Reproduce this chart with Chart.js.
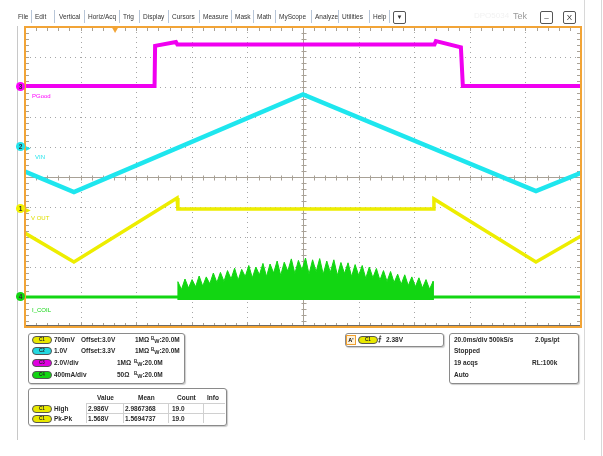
<!DOCTYPE html>
<html>
<head>
<meta charset="utf-8">
<script src="https://cdn.jsdelivr.net/npm/chart.js@4.4.0/dist/chart.umd.min.js"></script>
<style>
body{margin:0;background:#fff;font-family:"Liberation Sans",Arial,sans-serif;}
#wrap{position:relative;width:603px;height:456px;overflow:hidden;}
#scope{position:absolute;left:0;top:0;}
.t{position:absolute;white-space:nowrap;font-size:6.5px;line-height:7px;color:#2a2a2a;}
.m{font-size:6.5px;color:#333;}
.b{font-weight:bold;}
.sep{position:absolute;top:10px;width:1px;height:13px;background:#b8c6d8;}
.btn{position:absolute;top:11px;width:11px;height:11px;border:1px solid #555;border-radius:2px;font-size:8px;line-height:11px;text-align:center;color:#333;}
.box{position:absolute;border:1px solid #8a8a8a;border-radius:3px;background:#fff;box-shadow:1px 1px 1px #ccc;}
.badge{position:absolute;width:18px;height:6px;border:1px solid #555;border-radius:4px;font-size:4.5px;line-height:6px;text-align:center;color:#222;font-weight:bold;}
.mk{position:absolute;width:9px;height:9px;border-radius:50%;font-size:6.5px;line-height:9px;text-align:center;font-weight:bold;color:#333;}
.lbl{position:absolute;font-size:6px;white-space:nowrap;}
.vl{position:absolute;width:1px;background:#d0d0d0;}
.hl{position:absolute;height:1px;background:#d0d0d0;}
.bu{font-size:4.5px;position:relative;top:-2px;}
.bd{font-size:5.5px;position:relative;top:1px;}
</style>
</head>
<body>
<div id="wrap">
<canvas id="scope" width="603" height="456"></canvas>

<div class="vl" style="left:17px;top:26px;height:414px;background:#c8c8c8"></div>
<div class="vl" style="left:584px;top:0;height:440px;background:#d8d8d8"></div>
<div class="vl" style="left:601px;top:0;height:456px;background:#d8d8d8"></div>

<!-- menu bar -->
<span class="t m" style="left:18px;top:13px">File</span><div class="sep" style="left:31px"></div>
<span class="t m" style="left:35px;top:13px">Edit</span><div class="sep" style="left:54px"></div>
<span class="t m" style="left:59px;top:13px">Vertical</span><div class="sep" style="left:84px"></div>
<span class="t m" style="left:88px;top:13px">Horiz/Acq</span><div class="sep" style="left:119px"></div>
<span class="t m" style="left:123px;top:13px">Trig</span><div class="sep" style="left:139px"></div>
<span class="t m" style="left:143px;top:13px">Display</span><div class="sep" style="left:168px"></div>
<span class="t m" style="left:172px;top:13px">Cursors</span><div class="sep" style="left:199px"></div>
<span class="t m" style="left:203px;top:13px">Measure</span><div class="sep" style="left:231px"></div>
<span class="t m" style="left:235px;top:13px">Mask</span><div class="sep" style="left:253px"></div>
<span class="t m" style="left:257px;top:13px">Math</span><div class="sep" style="left:275px"></div>
<span class="t m" style="left:279px;top:13px">MyScope</span><div class="sep" style="left:311px"></div>
<span class="t m" style="left:315px;top:13px">Analyze</span><div class="sep" style="left:338px"></div>
<span class="t m" style="left:342px;top:13px">Utilities</span><div class="sep" style="left:369px"></div>
<span class="t m" style="left:373px;top:13px">Help</span><div class="sep" style="left:389px"></div>
<div class="btn" style="left:393px;font-size:6px">▼</div>
<span class="t" style="left:474px;top:12px;font-size:8px;color:#f2f2f2">DPO5034</span>
<span class="t" style="left:513px;top:11px;font-size:9px;line-height:10px;color:#9a9a9a">Tek</span>
<div class="btn" style="left:540px">–</div>
<div class="btn" style="left:563px">X</div>

<!-- channel markers -->
<div class="mk" style="left:16px;top:82px;background:#f0f">3</div>
<div class="mk" style="left:16px;top:142px;background:#22e4ec">2</div>
<span class="lbl" style="left:26px;top:144px;color:#22e4ec;font-size:6px">▶</span>
<div class="mk" style="left:16px;top:204px;background:#f2f200">1</div>
<span class="lbl" style="left:26px;top:206px;color:#e8e800;font-size:6px">▶</span>
<div class="mk" style="left:16px;top:292px;background:#12d612">4</div>
<span class="lbl" style="left:32px;top:93px;color:#f0f">PGood</span>
<span class="lbl" style="left:35px;top:154px;color:#22e4ec">VIN</span>
<span class="lbl" style="left:31px;top:215px;color:#e0e000">V OUT</span>
<span class="lbl" style="left:32px;top:307px;color:#12d612">I_COIL</span>

<!-- channel panel -->
<div class="box" style="left:28px;top:333px;width:155px;height:49px"></div>
<div class="badge" style="left:32px;top:336px;background:#e8e800">C1</div>
<span class="t b" style="left:54px;top:336px">700mV</span>
<span class="t b" style="left:81px;top:336px">Offset:3.0V</span>
<span class="t b" style="left:135px;top:336px">1MΩ</span>
<span class="t b" style="left:151px;top:336px"><span class="bu">B</span><span class="bd">W</span>:20.0M</span>
<div class="badge" style="left:32px;top:347px;background:#22d8e0">C2</div>
<span class="t b" style="left:54px;top:347px">1.0V</span>
<span class="t b" style="left:81px;top:347px">Offset:3.3V</span>
<span class="t b" style="left:135px;top:347px">1MΩ</span>
<span class="t b" style="left:151px;top:347px"><span class="bu">B</span><span class="bd">W</span>:20.0M</span>
<div class="badge" style="left:32px;top:359px;background:#e000e0">C3</div>
<span class="t b" style="left:54px;top:359px">2.0V/div</span>
<span class="t b" style="left:117px;top:359px">1MΩ</span>
<span class="t b" style="left:134px;top:359px"><span class="bu">B</span><span class="bd">W</span>:20.0M</span>
<div class="badge" style="left:32px;top:371px;background:#12d612">C4</div>
<span class="t b" style="left:54px;top:371px">400mA/div</span>
<span class="t b" style="left:117px;top:371px">50Ω</span>
<span class="t b" style="left:134px;top:371px"><span class="bu">B</span><span class="bd">W</span>:20.0M</span>

<!-- trigger panel -->
<div class="box" style="left:345px;top:333px;width:97px;height:12px"></div>
<div style="position:absolute;left:346px;top:335px;width:8px;height:8px;border:1px solid #f0a030;background:#fff3dc;font-size:5.5px;line-height:8px;text-align:center;font-weight:bold">A'</div>
<div class="badge" style="left:358px;top:336px;background:#e8e800">C1</div>
<span class="t b" style="left:378px;top:335px;font-size:7px">⨍</span>
<span class="t b" style="left:386px;top:336px">2.38V</span>

<!-- timebase panel -->
<div class="box" style="left:449px;top:333px;width:128px;height:49px"></div>
<span class="t b" style="left:454px;top:336px">20.0ms/div 500kS/s</span>
<span class="t b" style="left:535px;top:336px">2.0µs/pt</span>
<span class="t b" style="left:454px;top:347px">Stopped</span>
<span class="t b" style="left:454px;top:359px">19 acqs</span>
<span class="t b" style="left:532px;top:359px">RL:100k</span>
<span class="t b" style="left:454px;top:371px">Auto</span>

<!-- measurement table -->
<div class="box" style="left:28px;top:388px;width:197px;height:36px"></div>
<div class="hl" style="left:86px;top:403px;width:139px"></div>
<div class="hl" style="left:86px;top:413px;width:139px"></div>
<div class="vl" style="left:86px;top:403px;height:20px"></div>
<div class="vl" style="left:123px;top:403px;height:20px"></div>
<div class="vl" style="left:168px;top:403px;height:20px"></div>
<div class="vl" style="left:203px;top:403px;height:20px"></div>
<span class="t b" style="left:97px;top:394px">Value</span>
<span class="t b" style="left:138px;top:394px">Mean</span>
<span class="t b" style="left:177px;top:394px">Count</span>
<span class="t b" style="left:207px;top:394px">Info</span>
<div class="badge" style="left:32px;top:405px;background:#e8e800">C1</div>
<span class="t b" style="left:54px;top:405px">High</span>
<span class="t b" style="left:88px;top:405px">2.986V</span>
<span class="t b" style="left:125px;top:405px">2.9867368</span>
<span class="t b" style="left:172px;top:405px">19.0</span>
<div class="badge" style="left:32px;top:415px;background:#e8e800">C1</div>
<span class="t b" style="left:54px;top:415px">Pk-Pk</span>
<span class="t b" style="left:88px;top:415px">1.568V</span>
<span class="t b" style="left:125px;top:415px">1.5694737</span>
<span class="t b" style="left:172px;top:415px">19.0</span>
</div>

<script>
// time axis in ms (20 ms/div, 10 div), vertical axis in screen divisions
const timeMin = 0, timeMax = 200, timeDiv = 20;
const divMin = -5, divMax = 5;
const triggerT = 32.4;

// CH3 PGood
const pgoodT   = [0, 46.6, 46.8, 54.3, 54.8, 147.3, 147.8, 156.8, 157.5, 200];
const pgoodDiv = [3.03, 3.03, 4.37, 4.5, 4.42, 4.42, 4.53, 4.32, 3.03, 3.03];

// CH2 VIN
const vinT   = [0, 17.6, 100, 183.8, 200];
const vinDiv = [0.18, -0.5, 2.75, -0.47, 0.14];

// CH1 VOUT
const voutT   = [0, 17.6, 54.7, 55.0, 146.8, 147.1, 183.8, 200];
const voutDiv = [-1.87, -2.83, -0.7, -1.07, -1.07, -0.73, -2.83, -1.97];

// CH4 I_COIL: baseline and switching burst (tips / valleys)
const icoilBase = -4.0, icoilFloor = -4.1;
const burstStart = 55, burstStep = 1.275;
const burstDiv = [
  -3.49,-3.75,-3.40,-3.70,-3.42,-3.66,-3.30,-3.64,-3.33,-3.56,-3.20,-3.52,
  -3.18,-3.48,-3.12,-3.40,-3.04,-3.44,-3.08,-3.32,-2.95,-3.36,-3.00,-3.26,
  -2.88,-3.32,-2.90,-3.20,-2.80,-3.28,-2.84,-3.14,-2.73,-3.22,-2.78,-3.10,
  -2.70,-3.24,-2.76,-3.16,-2.72,-3.24,-2.80,-3.18,-2.76,-3.28,-2.85,-3.22,
  -2.86,-3.32,-2.92,-3.28,-2.95,-3.38,-3.00,-3.36,-3.05,-3.44,-3.12,-3.48,
  -3.15,-3.52,-3.24,-3.58,-3.26,-3.62,-3.33,-3.66,-3.36,-3.70,-3.42,-3.74,
  -3.48
];

const pts = (ts, vs) => ts.map((t, i) => ({x: t, y: vs[i]}));
const burstPts = [{x: burstStart, y: icoilFloor}]
  .concat(burstDiv.map((v, i) => ({x: burstStart + i * burstStep, y: v})))
  .concat([{x: burstStart + (burstDiv.length - 1) * burstStep, y: icoilFloor}]);

const orange = '#f2a436';

const graticule = {
  id: 'graticule',
  beforeDatasetsDraw(chart) {
    const {ctx, chartArea: a, scales: {x, y}} = chart;
    ctx.save();
    ctx.lineWidth = 1;
    // dotted division lines
    ctx.strokeStyle = '#a6a6a6';
    ctx.setLineDash([1, 4]);
    ctx.beginPath();
    for (let v = timeMin + timeDiv; v < timeMax; v += timeDiv) {
      const px = Math.round(x.getPixelForValue(v)) + 0.5;
      ctx.moveTo(px, a.top); ctx.lineTo(px, a.bottom);
    }
    for (let v = divMin + 1; v < divMax; v++) {
      const py = Math.round(y.getPixelForValue(v)) + 0.5;
      ctx.moveTo(a.left, py); ctx.lineTo(a.right, py);
    }
    ctx.stroke();
    ctx.setLineDash([]);
    // centre cross with minor ticks, edge ticks
    ctx.strokeStyle = '#a8a196';
    const cx = Math.round(x.getPixelForValue((timeMin + timeMax) / 2)) + 0.5;
    const cy = Math.round(y.getPixelForValue(0)) + 0.5;
    ctx.beginPath();
    ctx.moveTo(cx, a.top); ctx.lineTo(cx, a.bottom);
    ctx.moveTo(a.left, cy); ctx.lineTo(a.right, cy);
    for (let v = timeMin; v <= timeMax; v += timeDiv / 5) {
      const px = Math.round(x.getPixelForValue(v)) + 0.5;
      ctx.moveTo(px, cy - 2); ctx.lineTo(px, cy + 3);
      ctx.moveTo(px, a.top); ctx.lineTo(px, a.top + 4);
      ctx.moveTo(px, a.bottom - 4); ctx.lineTo(px, a.bottom);
    }
    for (let k = 0; k <= (divMax - divMin) * 5; k++) {
      const py = Math.round(y.getPixelForValue(divMin + k / 5)) + 0.5;
      ctx.moveTo(cx - 2, py); ctx.lineTo(cx + 3, py);
      ctx.moveTo(a.left, py); ctx.lineTo(a.left + 4, py);
      ctx.moveTo(a.right - 4, py); ctx.lineTo(a.right, py);
    }
    ctx.stroke();
    ctx.strokeStyle = '#6e6a64';
    ctx.beginPath();
    ctx.moveTo(a.left, a.bottom - 1.5); ctx.lineTo(a.right, a.bottom - 1.5);
    ctx.stroke();
    ctx.restore();
  },
  afterDraw(chart) {
    const {ctx, chartArea: a, scales: {x}} = chart;
    ctx.save();
    ctx.strokeStyle = orange;
    ctx.lineWidth = 2;
    ctx.strokeRect(a.left, a.top, a.right - a.left, a.bottom - a.top);
    ctx.fillStyle = orange;
    ctx.fillRect(a.left - 1, a.top, 2, a.bottom - a.top);
    const tx = x.getPixelForValue(triggerT);
    ctx.beginPath();
    ctx.moveTo(tx - 4, a.top - 1); ctx.lineTo(tx + 4, a.top - 1); ctx.lineTo(tx, a.top + 6);
    ctx.closePath();
    ctx.fill();
    ctx.restore();
  }
};

new Chart(document.getElementById('scope'), {
  type: 'line',
  data: {
    datasets: [{
      label: 'I_COIL burst',
      data: burstPts,
      borderColor: '#12d612',
      backgroundColor: '#12d612',
      borderWidth: 1,
      fill: {value: icoilFloor}
    }, {
      label: 'I_COIL',
      data: pts([timeMin, timeMax], [icoilBase, icoilBase]),
      borderColor: '#12d612',
      borderWidth: 3,
      fill: false
    }, {
      label: 'V OUT',
      data: pts(voutT, voutDiv),
      borderColor: '#eded00',
      borderWidth: 3.5,
      fill: false
    }, {
      label: 'VIN',
      data: pts(vinT, vinDiv),
      borderColor: '#1ee6ee',
      borderWidth: 4.5,
      fill: false
    }, {
      label: 'PGood',
      data: pts(pgoodT, pgoodDiv),
      borderColor: '#f000f0',
      borderWidth: 4,
      fill: false
    }]
  },
  options: {
    responsive: false,
    animation: false,
    layout: {padding: {left: 25, top: 27, right: 22, bottom: 129}},
    elements: {point: {radius: 0}, line: {tension: 0}},
    plugins: {legend: {display: false}, tooltip: {enabled: false}},
    scales: {
      x: {
        type: 'linear', min: timeMin, max: timeMax, display: false
      },
      y: {
        type: 'linear', min: divMin, max: divMax, display: false
      }
    }
  },
  plugins: [graticule]
});
</script>
</body>
</html>
